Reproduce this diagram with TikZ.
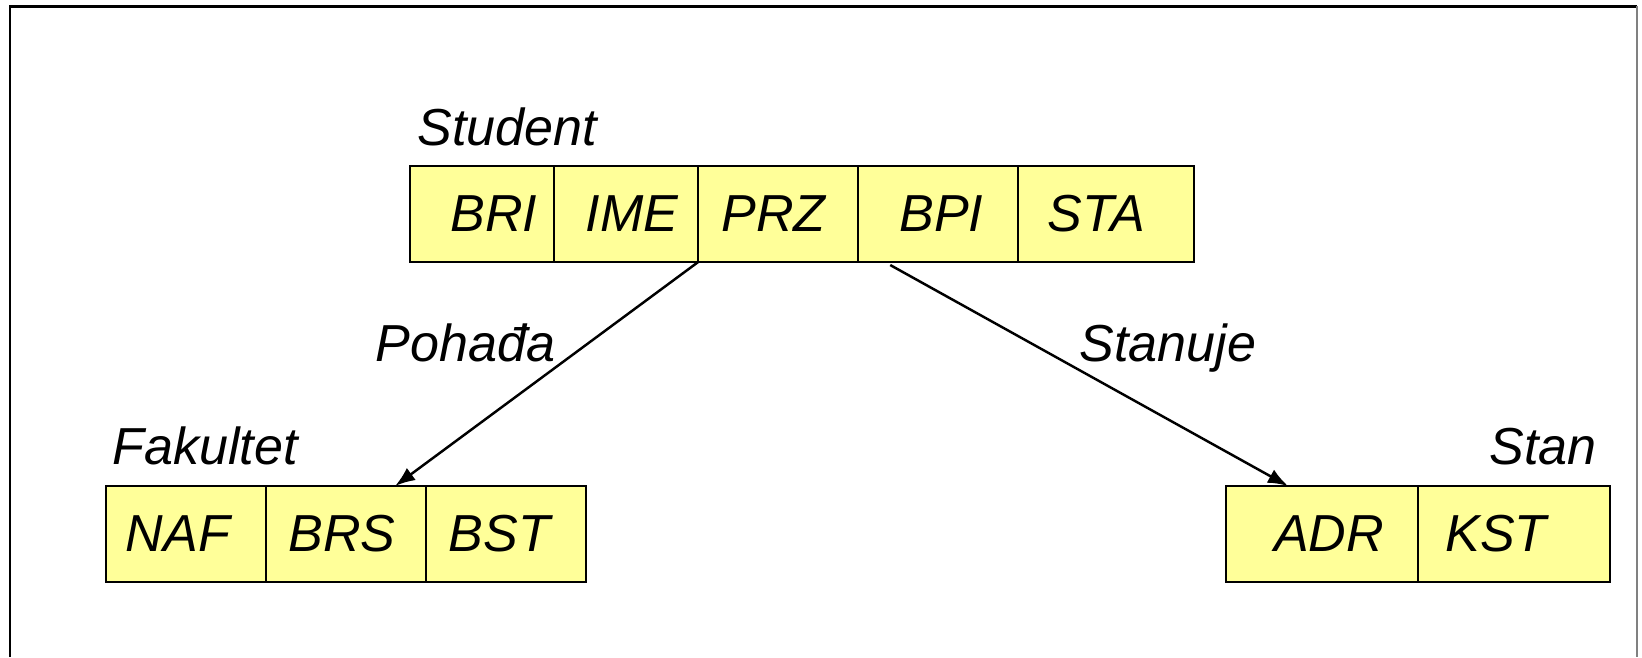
\documentclass[tikz,border=0pt]{standalone}
\usepackage{fontspec}
\setmainfont{Liberation Sans}
\usetikzlibrary{chains,positioning,arrows.meta}
\definecolor{cellfill}{RGB}{255,255,153}
\newcommand{\offs}[2]{\kern#1\relax#2\kern-#1\relax}

\begin{document}
\begin{tikzpicture}[
x=0.01cm,y=-0.01cm,
cell/.style={
  draw,
  fill=cellfill,
  line width=0.6pt,
  outer sep=0pt,
  inner sep=0pt,
  minimum height=0.96cm,
  font=\fontsize{14.8}{17}\selectfont\itshape
},
lbl/.style={
  inner sep=0pt,
  font=\fontsize{14.8}{17}\selectfont\itshape
},
link/.style={
  line width=0.7pt,
  -{Latex[length=2mm,width=1.5mm]}
},
node distance=0pt
]
\useasboundingbox (0,0) rectangle (1642,657);
% frame
\draw[line width=0.85pt] (10,657) -- (10,6) -- (1637,6);
\draw[line width=0.3pt,gray] (1637,6) -- (1637,657);

% Student
\begin{scope}[start chain=1]
\node[on chain=1,cell,minimum width=1.44cm] at (482,214)
  (bri) {\offs{0.12cm}{BRI}};
\node[on chain=1,cell,minimum width=1.44cm]
  (ime) {\offs{0.06cm}{IME}};
\node[on chain=1,cell,minimum width=1.6cm]
  (prz) {\offs{-0.045cm}{PRZ}};
\node[on chain=1,cell,minimum width=1.6cm]
  (bpi) {\offs{0.03cm}{BPI}};
\node[on chain=1,cell,minimum width=1.76cm]
  (sta) {\offs{-0.1cm}{STA}};
\end{scope}
\node[lbl,anchor=base west] at ([xshift=0.07cm,yshift=0.2cm]bri.north west) (student) {Student};

% Fakultet
\begin{scope}[start chain=2]
\node[on chain=2,cell,minimum width=1.6cm] at (186,534)
  (naf) {\offs{-0.08cm}{NAF}};
\node[on chain=2,cell,minimum width=1.6cm]
  (brs) {\offs{-0.04cm}{BRS}};
\node[on chain=2,cell,minimum width=1.6cm]
  (bst) {\offs{-0.07cm}{BST}};
\end{scope}
\node[lbl,anchor=base west] at ([xshift=0.06cm,yshift=0.21cm]naf.north west) (fakultet) {Fakultet};

% Stan
\begin{scope}[start chain=3]
\node[on chain=3,cell,minimum width=1.92cm] at (1322,534)
  (adr) {\offs{0.07cm}{ADR}};
\node[on chain=3,cell,minimum width=1.92cm]
  (kst) {\offs{-0.18cm}{KST}};
\end{scope}
\node[lbl,anchor=base east] at ([xshift=-0.13cm,yshift=0.21cm]kst.north east) (stan) {Stan};

\draw[link] (prz.south west) -- ([xshift=-0.31cm]brs.north east);
\draw[link] ([xshift=0.32cm,yshift=-0.03cm]bpi.south west) -- ([xshift=0.62cm]adr.north west);

\node[lbl,anchor=base west] at (375,361) (pohadja) {Pohađa};
\node[lbl,anchor=base west] at (1079,361) (stanuje) {Stanuje};
\end{tikzpicture}
\end{document}
